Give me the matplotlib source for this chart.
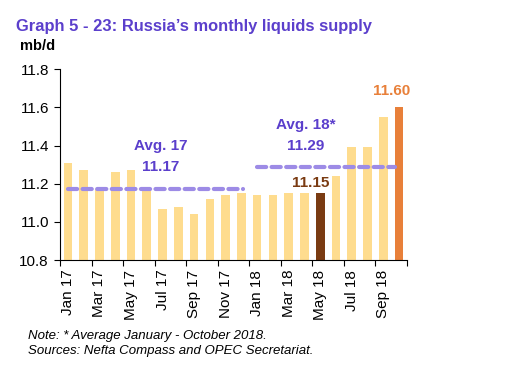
import numpy as np
import matplotlib.pyplot as plt

plt.rcParams['font.family'] = ['Liberation Sans', 'DejaVu Sans']

# Monthly liquids supply, mb/d
months = ['Jan 17', 'Feb 17', 'Mar 17', 'Apr 17', 'May 17', 'Jun 17', 'Jul 17', 'Aug 17',
          'Sep 17', 'Oct 17', 'Nov 17', 'Dec 17', 'Jan 18', 'Feb 18', 'Mar 18', 'Apr 18',
          'May 18', 'Jun 18', 'Jul 18', 'Aug 18', 'Sep 18', 'Oct 18']
supply = [11.31, 11.27, 11.17, 11.26, 11.27, 11.18, 11.07, 11.08,
          11.04, 11.12, 11.14, 11.15, 11.14, 11.14, 11.15, 11.15,
          11.15, 11.24, 11.39, 11.39, 11.55, 11.60]
avg17 = 11.17
avg18 = 11.29

light = '#FEDC8E'
brown = '#7A3B12'
orange = '#E8803A'
purple = '#5B3FCC'
lav = '#9D8BE6'

colors = [light] * len(months)
colors[16] = brown
colors[21] = orange

fig = plt.figure(figsize=(5.07, 3.71), dpi=100)
ax = fig.add_axes([60 / 507, 111 / 371, 347 / 507, 190.7 / 371])

x = np.arange(len(months))
ax.bar(x, np.array(supply) - 10.8, bottom=10.8, width=0.55, color=colors, zorder=2)

# average lines
ax.plot([0, 11.1], [avg17, avg17], color=lav, lw=3, ls=(0, (2.2, 1.3)), zorder=3,
        dash_capstyle='round')
ax.plot([12, 20.75], [avg18, avg18], color=lav, lw=3, ls=(0, (2.2, 1.3)), zorder=3,
        dash_capstyle='round')

lbl = dict(fontsize=11, fontweight='bold', ha='center', va='center')
ax.text(5.9, 11.397, 'Avg. 17', color=purple, **lbl)
ax.text(5.9, 11.287, '11.17', color=purple, **lbl)
ax.text(15.1, 11.507, 'Avg. 18*', color=purple, **lbl)
ax.text(15.1, 11.397, '11.29', color=purple, **lbl)
ax.text(15.4, 11.203, '11.15', color=brown, **lbl)
ax.text(20.5, 11.685, '11.60', color=orange, **lbl)

ax.set_xlim(-0.5, 21.5)
ax.set_ylim(10.8, 11.8)
yt = np.arange(10.8, 11.81, 0.2)
ax.set_yticks(yt)
ax.set_yticklabels([f'{v:.1f}' for v in yt], fontsize=11)

ax.set_xticks(np.arange(-0.5, 22, 2))
ax.set_xticklabels([])
ax.set_xticks(x[::2], minor=True)
ax.set_xticklabels(months[::2], minor=True, rotation=90, fontsize=11)
ax.tick_params(axis='x', which='minor', length=0, pad=7)
ax.tick_params(axis='x', which='major', length=4, direction='out')
ax.tick_params(axis='y', length=4, direction='out', pad=4)

for s in ['top', 'right']:
    ax.spines[s].set_visible(False)

fig.text(16 / 507, 1 - 26 / 371, 'Graph 5 - 23: Russia\u2019s monthly liquids supply',
         color=purple, fontsize=11.9, fontweight='bold', va='center')
fig.text(20 / 507, 1 - 46 / 371, 'mb/d', fontsize=10.5, fontweight='bold', va='center')
fig.text(28 / 507, 1 - 336 / 371, 'Note: * Average January - October 2018.',
         fontsize=9.5, style='italic', va='center')
fig.text(28 / 507, 1 - 351 / 371, 'Sources: Nefta Compass and OPEC Secretariat.',
         fontsize=9.5, style='italic', va='center')

fig.savefig('out.png', dpi=100)
